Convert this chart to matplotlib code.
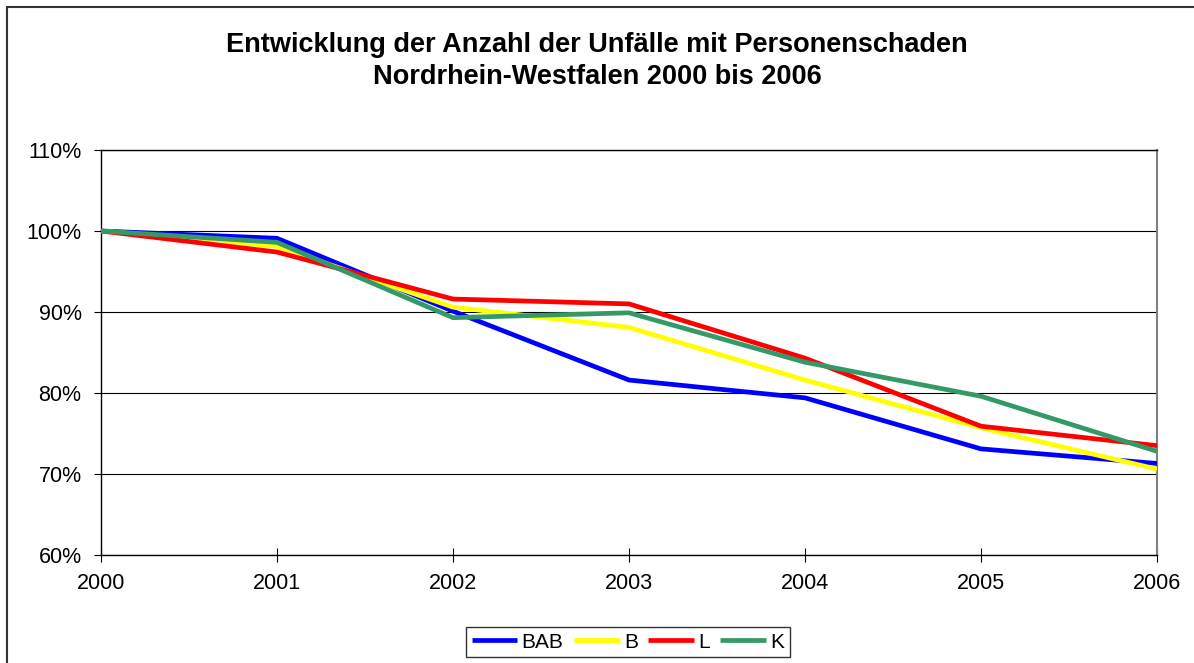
import matplotlib.pyplot as plt
from matplotlib.patches import Rectangle
from matplotlib.ticker import PercentFormatter

years = ["2000", "2001", "2002", "2003", "2004", "2005", "2006"]
bab = [100.0, 99.1, 90.1, 81.6, 79.4, 73.1, 71.3]
b = [100.0, 98.1, 90.6, 88.1, 81.6, 75.7, 70.6]
l = [100.0, 97.4, 91.6, 91.0, 84.3, 75.9, 73.5]
k = [100.0, 98.6, 89.3, 89.9, 83.8, 79.6, 72.8]

series = [("BAB", bab, "#0000FF"), ("B", b, "#FFFF00"),
          ("L", l, "#FF0000"), ("K", k, "#339966")]

plt.rcParams['font.family'] = ['Liberation Sans', 'DejaVu Sans']

fig = plt.figure(figsize=(11.94, 6.63), dpi=100)
ax = fig.add_axes([101 / 1194, 1 - 555 / 663, (1157 - 101) / 1194, (555 - 150) / 663])

# outer chart frame
fig.patches.append(Rectangle((7 / 1194, -0.05), 1.2, 1 - 7 / 663 + 0.05,
                             transform=fig.transFigure, fill=False,
                             edgecolor="#333333", linewidth=1.5))

x = range(len(years))
for name, vals, col in series:
    ax.plot(x, vals, color=col, linewidth=3.4, label=name, solid_capstyle="butt", zorder=3)

ax.set_xlim(0, len(years) - 1)
ax.set_ylim(60, 110)
ax.set_yticks([60, 70, 80, 90, 100, 110])
ax.yaxis.set_major_formatter(PercentFormatter(decimals=0))
ax.set_xticks(list(x))
ax.set_xticklabels(years)
ax.grid(axis="y", color="black", linewidth=0.8, zorder=1)
ax.tick_params(axis="y", direction="out", length=5, labelsize=15.5, pad=9)
ax.tick_params(axis="x", direction="inout", length=10, labelsize=15.5, pad=8)

for side in ["left", "bottom", "top"]:
    ax.spines[side].set_color("black")
    ax.spines[side].set_linewidth(1.0)
ax.spines["right"].set_color("#808080")
ax.spines["right"].set_linewidth(1.5)

fig.text(0.5, 1 - 45 / 663, "Entwicklung der Anzahl der Unfälle mit Personenschaden",
         ha="center", va="center", fontsize=19.5, fontweight="bold")
fig.text(0.5, 1 - 77 / 663, "Nordrhein-Westfalen 2000 bis 2006",
         ha="center", va="center", fontsize=19.5, fontweight="bold")

leg = fig.legend(loc="center", bbox_to_anchor=(628 / 1194, 1 - 642 / 663), ncol=4,
                 frameon=True, fancybox=False, edgecolor="black", fontsize=15,
                 handlelength=2.2, handletextpad=0.2, columnspacing=0.5,
                 borderpad=0.25, borderaxespad=0)
leg.get_frame().set_linewidth(1.0)

fig.savefig("out.png", dpi=100)
